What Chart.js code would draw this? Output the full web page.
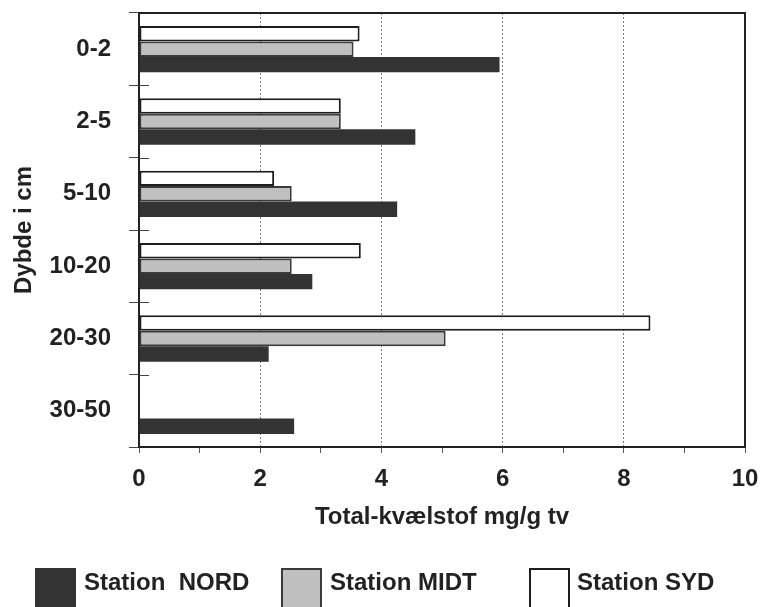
<!DOCTYPE html>
<html>
<head>
<meta charset="utf-8">
<script src="https://cdn.jsdelivr.net/npm/chart.js@4.4.1/dist/chart.umd.min.js"></script>
<style>
  html, body { margin: 0; padding: 0; background: #fff; }
  #wrap { position: relative; width: 760px; height: 607px; overflow: hidden; }
  #legend { position: absolute; left: 0; top: 0; width: 760px; height: 607px; pointer-events: none; }
  .box { position: absolute; top: 568px; width: 41px; height: 44px; box-sizing: border-box; }
  .lbl { position: absolute; top: 568px; font: bold 24px "Liberation Sans", Arial, sans-serif; color: #222; white-space: pre; }
</style>
</head>
<body>
<div id="wrap">
  <canvas id="chart" width="760" height="607"></canvas>
  <div id="legend"></div>
</div>
<script>
const depths = ['0-2', '2-5', '5-10', '10-20', '20-30', '30-50'];
const nord = [5.95, 4.56, 4.26, 2.86, 2.14, 2.56];
const midt = [3.54, 3.33, 2.52, 2.52, 5.06, null];
const syd = [3.64, 3.33, 2.23, 3.66, 8.44, null];
const xTicks = [0, 2, 4, 6, 8, 10];

const font = '"Liberation Sans", Arial, sans-serif';

// frame round the plot area (top + right lines)
const frame = {
    id: 'frame',
    afterDraw(chart) {
        const a = chart.chartArea;
        const c = chart.ctx;
        c.save();
        c.strokeStyle = '#222';
        c.lineWidth = 2;
        c.beginPath();
        c.moveTo(a.left, a.top);
        c.lineTo(a.right, a.top);
        c.lineTo(a.right, a.bottom);
        c.stroke();
        // y tick marks cross the axis a little into the plot
        const ys = chart.scales.y;
        c.strokeStyle = '#444';
        c.lineWidth = 1;
        c.beginPath();
        for (let i = 1; i < depths.length; i++) {
            const y = Math.round((ys.getPixelForTick(i - 1) + ys.getPixelForTick(i)) / 2) + 0.5;
            c.moveTo(a.left, y);
            c.lineTo(a.left + 10, y);
        }
        c.stroke();
        c.restore();
    }
};

const ctx = document.getElementById('chart').getContext('2d');
const chart = new Chart(ctx, {
    type: 'bar',
    data: {
        labels: depths,
        datasets: [
            {
                label: 'Station SYD',
                data: syd,
                backgroundColor: '#ffffff',
                borderColor: '#1e1e1e',
                borderWidth: 2,
                borderSkipped: false,
            },
            {
                label: 'Station MIDT',
                data: midt,
                backgroundColor: '#c0c0c0',
                borderColor: '#3a3a3a',
                borderWidth: 2,
                borderSkipped: false,
            },
            {
                label: 'Station  NORD',
                data: nord,
                backgroundColor: '#333333',
                borderColor: '#333333',
                borderWidth: 0,
            },
        ],
    },
    options: {
        indexAxis: 'y',
        responsive: false,
        animation: false,
        categoryPercentage: 0.64,
        barPercentage: 1.0,
        layout: { padding: { left: 0, right: 15, top: 13, bottom: 70 } },
        plugins: {
            legend: { display: false },
            tooltip: { enabled: false },
        },
        scales: {
            x: {
                min: 0,
                max: 10,
                afterFit(scale) {
                    scale.height = 90;
                    scale.paddingLeft = 0;
                    scale.paddingRight = 0;
                },
                afterBuildTicks(scale) {
                    scale.ticks = [0, 1, 2, 3, 4, 5, 6, 7, 8, 9, 10].map(v => ({ value: v }));
                },
                ticks: {
                    autoSkip: false,
                    maxRotation: 0,
                    padding: 12,
                    color: '#222',
                    font: { family: font, size: 24, weight: 'bold' },
                    callback: v => (xTicks.includes(v) ? String(v) : ''),
                },
                grid: {
                    color: c => (c.tick && c.tick.value % 2 === 0 && c.tick.value > 0 && c.tick.value < 10) ? '#777' : 'rgba(0,0,0,0)',
                    lineWidth: 1,
                    tickColor: '#555',
                    tickLength: 6,
                },
                border: { color: '#222', width: 2, dash: [2, 2] },
                title: {
                    display: true,
                    text: 'Total-kvælstof mg/g tv',
                    color: '#222',
                    font: { family: font, size: 24, weight: 'bold' },
                    padding: { top: 0, bottom: 5 },
                },
            },
            y: {
                afterFit(scale) {
                    scale.width = 139;
                    scale.paddingTop = 0;
                    scale.paddingBottom = 0;
                },
                ticks: {
                    color: '#222',
                    padding: 18,
                    font: { family: font, size: 24, weight: 'bold' },
                },
                grid: {
                    drawOnChartArea: false,
                    tickColor: '#444',
                    tickLength: 10,
                },
                border: { color: '#222', width: 2 },
                title: {
                    display: true,
                    text: 'Dybde i cm',
                    color: '#222',
                    font: { family: font, size: 24, weight: 'bold' },
                    padding: { top: 10, bottom: 0 },
                },
            },
        },
    },
    plugins: [frame],
});

// legend in the original order NORD, MIDT, SYD
const legendEl = document.getElementById('legend');
const legendPos = [
    { box: 35, text: 84 },
    { box: 281, text: 330 },
    { box: 529, text: 577 },
];
[2, 1, 0].forEach((di, i) => {
    const ds = chart.data.datasets[di];
    const b = document.createElement('div');
    b.className = 'box';
    b.style.left = legendPos[i].box + 'px';
    b.style.background = ds.backgroundColor;
    b.style.border = (di === 2 ? 0 : 2) + 'px solid ' + ds.borderColor;
    legendEl.appendChild(b);
    const t = document.createElement('div');
    t.className = 'lbl';
    t.style.left = legendPos[i].text + 'px';
    t.textContent = ds.label;
    legendEl.appendChild(t);
});
</script>
</body>
</html>
